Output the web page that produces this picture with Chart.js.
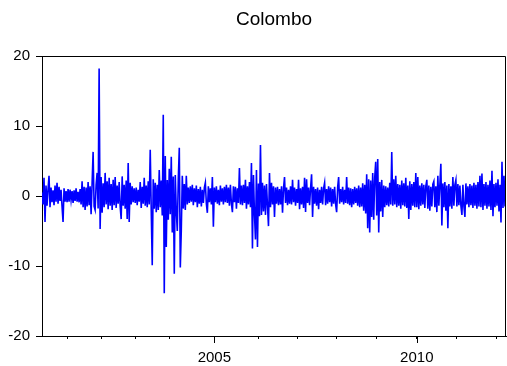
<!DOCTYPE html>
<html>
<head>
<meta charset="utf-8">
<script src="https://cdn.jsdelivr.net/npm/chart.js@4/dist/chart.umd.min.js"></script>
<style>
  html, body { margin: 0; padding: 0; background: #fff; }
  #wrap { width: 507px; height: 366px; }
</style>
</head>
<body>
<div id="wrap"><canvas id="chart"></canvas></div>
<script>
// daily returns, grouped by year (one array per year)
const y2000 = [0.5, -1.2, 2.6, -3.7, 1.5, -1.4, 0.9, 2.9, -1.6, 1.2, -0.9, 0.8, -1.3, 1.5, -0.8, 1.9, -1.1, 1.3, -0.7, 0.9, -1.5, -3.7, 1.1, -0.8, 0.7]
const y2001 = [-0.9, 1.0, -0.8, 0.9, -0.6, 0.7, -1.0, 0.8, -0.7, 1.1, -0.8, 0.6, -0.9, 1.0, -1.2, 2.1, -1.6, 1.3, -2.0, 1.2, -1.5, 2.0, -1.3, 1.4, -2.6, 1.8, 6.3, -1.5, -2.0, 1.6, 3.3, -1.8, 18.2, -4.7]
const y2002 = [2.7, -2.4, 1.8, -1.6, 3.3, -1.2, 2.1, -1.9, 2.6, -1.4, 1.7, -2.0, 2.3, -1.3, 2.7, -1.7, 1.5, -1.1, 2.0, -1.5, -3.3, 2.8, -1.4, 1.6, -1.8, 2.2, -3.3, 4.7, -3.7, 1.9, -1.2, 1.4, -0.9, 1.1]
const y2003 = [-1.0, 1.2, -1.3, 0.9, -0.8, 2.0, -1.7, 1.3, -1.1, 2.6, -1.4, 1.5, -1.6, 2.1, -1.2, 6.6, -2.0, -9.9, 2.4, -1.8, 1.9, -2.3, 1.6, -2.0, 3.7, -1.6, 2.2, -2.8, 11.6, -13.9, 5.7, -7.3, 2.3, -3.4]
const y2004 = [3.9, -2.6, 5.6, -5.2, 2.8, -11.1, 3.0, -2.2, -5.0, 2.4, 6.9, -10.2, -4.9, 2.9, -1.8, 1.7, -2.0, 2.9, -1.2, 1.2, -1.0, 1.4, -0.8, 1.6, -1.3, 1.1, -0.9, 1.5, -1.6, 1.0, -1.1, 1.3, -1.5, 0.9, -1.0, 1.2, 1.9, -1.1, -2.4, 1.4, -0.9, 1.1, -1.2, 2.7, -4.4]
const y2005 = [1.2, -0.9, 1.4, -1.1, 0.9, -1.3, 1.5, -0.8, 1.1, -1.2, 1.3, -0.9, 1.6, -1.0, 1.2, -1.4, 1.6, -1.1, -2.3, 1.4, -0.9, 1.3, -1.8, 1.1, -1.0, 4.0, -1.2, 1.5, -1.3, 1.6, -1.0, 2.3, -1.8, 1.4, -1.2, 2.0, -1.6, 4.7, -7.5, 3.0, -2.5, -6.2, 3.7, -7.3]
const y2006 = [1.8, -2.9, 7.3, -2.7, 1.9, -2.2, 1.5, -2.7, 1.7, -1.4, -4.3, 3.3, -1.6, 1.9, -1.2, 1.4, -3.0, 1.2, -1.1, 1.3, -1.3, 1.0, -1.2, 1.4, -2.4, 1.1, 2.7, -1.0, 1.2, -1.3, 0.9, -1.1, 1.4, -1.2, 2.3, -0.9, 1.2, -1.4, 1.0]
const y2007 = [-1.0, 2.3, -1.9, 1.1, -1.2, 1.3, -1.7, 2.6, -2.3, 2.4, -1.0, 1.2, -1.3, 1.1, 3.1, -3.0, 1.3, -1.1, 1.0, -1.4, 1.2, -1.9, 0.9, -1.0, 1.3, -1.2, 1.1, 1.9, -1.3, 1.0, -1.1, 1.4, -0.9, 1.2, -1.5, 1.0, -1.1, 1.3, -1.2]
const y2008 = [-2.3, 1.2, 2.7, -1.1, 1.0, -0.9, 1.3, -1.2, 0.9, -1.0, 2.7, -1.1, 1.2, -1.3, 1.1, -1.6, 1.0, -1.2, 1.3, -1.0, 1.1, -1.4, 1.5, -1.6, 1.2, -1.5, 1.8, -2.1, 1.6, -2.5, 3.1, -4.6, 2.4, -5.2, 2.2, -3.0, 3.3, -3.4, 2.6, 4.9]
const y2009 = [-2.8, 5.3, -5.2, 2.0, -2.2, 2.3, -3.0, 1.5, -1.6, 1.4, -1.3, 1.2, -1.5, 1.9, -1.2, 6.3, -1.4, 2.4, -1.2, 2.9, -1.6, 1.7, -1.4, 1.6, -1.8, 2.2, -1.3, 1.8, -1.5, 2.6, -1.7, 1.5, -3.3, 2.1, -2.0, 1.7, -1.4, 2.0, -1.6, 3.3]
const y2010 = [-1.6, 2.7, -1.9, 1.5, -1.4, 1.8, -1.2, 1.6, -1.7, 1.4, 2.3, -1.8, 1.5, -2.1, 1.3, -1.5, 1.7, 2.1, -1.6, 1.4, -2.3, 2.9, -1.4, 1.6, 4.6, -4.2, 1.8, -1.6, 2.0, -2.1, 1.5, -4.6, 1.7, -1.5, 1.4, -1.8, 2.7, -1.4, 1.6, 2.3]
const y2011 = [-1.5, 1.7, -1.3, 1.5, -1.4, -2.7, 1.6, -1.5, -3.0, 1.8, -1.2, 1.4, -1.6, 1.7, -1.3, 1.5, -1.7, 1.9, -1.4, 1.6, -1.8, 2.0, -1.5, 2.9, -1.6, 3.2, -2.0, 1.7, -1.4, 2.0, -1.8, 1.6, -1.5, 2.2, -2.0, 3.6, -2.9, 1.7, -1.6, 1.9]
const y2012 = [-1.4, 2.4, -2.2, 1.6, -3.8, 4.9, -1.7, 2.9, -1.5, 1.3]

const yearNames = [2000, 2001, 2002, 2003, 2004, 2005, 2006, 2007, 2008, 2009, 2010, 2011, 2012]
const yearData = [y2000, y2001, y2002, y2003, y2004, y2005, y2006, y2007, y2008, y2009, y2010, y2011, y2012]
const labelled = [2005, 2010]
const yTicks = [-20, -10, 0, 10, 20]

// put the years one after another (observation axis, like EViews)
let values = []
let yearStart = {}
yearData.forEach((arr, i) => {
    yearStart[yearNames[i]] = values.length
    values = values.concat(arr)
})
const points = values.map((v, i) => ({x: i, y: v}))
const tickYears = yearNames.slice(1)

const FONT = "'Liberation Sans', Arial, sans-serif"

// frame on top/right + longer marks for the labelled years
const framePlugin = {
    id: 'frame',
    afterDraw(chart) {
        const ctx = chart.ctx
        const a = chart.chartArea
        const xs = chart.scales.x
        ctx.save()
        ctx.strokeStyle = '#000'
        ctx.lineWidth = 1
        ctx.beginPath()
        ctx.moveTo(a.left, a.top + 0.5)
        ctx.lineTo(a.right - 0.5, a.top + 0.5)
        ctx.lineTo(a.right - 0.5, a.bottom)
        ctx.stroke()
        labelled.forEach(yr => {
            const px = Math.round(xs.getPixelForValue(yearStart[yr])) + 0.5
            ctx.beginPath()
            ctx.moveTo(px, a.bottom)
            ctx.lineTo(px, a.bottom + 7)
            ctx.stroke()
        })
        ctx.restore()
    }
}

new Chart(document.getElementById('chart'), {
    type: 'line',
    data: {
        datasets: [{
            data: points,
            borderColor: '#0000ff',
            borderWidth: 1.6,
            pointRadius: 0,
            tension: 0,
            fill: false
        }]
    },
    options: {
        responsive: true,
        maintainAspectRatio: false,
        animation: false,
        layout: {padding: {top: 0, right: 1, bottom: 0, left: 0}},
        plugins: {
            legend: {display: false},
            tooltip: {enabled: false},
            title: {
                display: true,
                fullSize: false,
                text: 'Colombo',
                color: '#000',
                font: {family: FONT, size: 19, weight: 'normal'},
                padding: {top: 8.6, bottom: 24.6}
            }
        },
        scales: {
            x: {
                type: 'linear',
                min: 0,
                max: values.length - 1,
                afterBuildTicks: (scale) => {
                    scale.ticks = tickYears.map(yr => ({value: yearStart[yr]}))
                },
                afterFit: (scale) => { scale.height = 30 },
                ticks: {
                    autoSkip: false,
                    maxRotation: 0,
                    color: '#000',
                    padding: 10,
                    font: {family: FONT, size: 15},
                    callback: (val) => {
                        const yr = tickYears.find(y => yearStart[y] === val)
                        return labelled.includes(yr) ? String(yr) : ''
                    }
                },
                grid: {display: true, drawOnChartArea: false, tickLength: 3, color: '#000', tickColor: '#000'},
                border: {display: true, color: '#000', width: 1}
            },
            y: {
                min: -20,
                max: 20,
                afterBuildTicks: (scale) => {
                    scale.ticks = yTicks.map(v => ({value: v}))
                },
                afterFit: (scale) => { scale.width = 42 },
                ticks: {
                    color: '#000',
                    padding: 6,
                    font: {family: FONT, size: 15}
                },
                grid: {display: true, drawOnChartArea: false, tickLength: 6, color: '#000', tickColor: '#000'},
                border: {display: true, color: '#000', width: 1}
            }
        }
    },
    plugins: [framePlugin]
})
</script>
</body>
</html>
